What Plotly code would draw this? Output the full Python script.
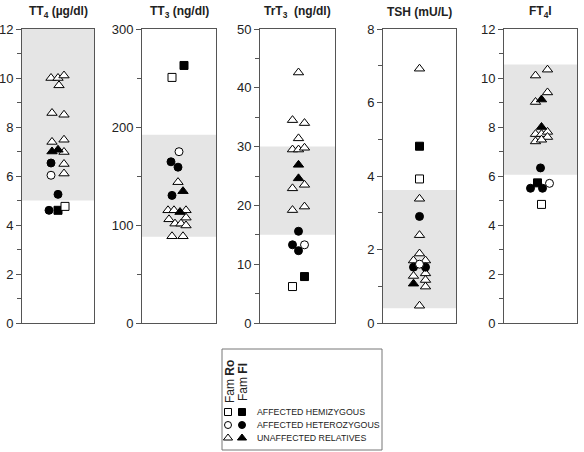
import plotly.graph_objects as go

W, H = 584, 452

# ---------------- data ----------------
panel_titles = ["TT<sub>4</sub> (µg/dl)", "TT<sub>3</sub> (ng/dl)", "TrT<sub>3</sub>&nbsp; (ng/dl)",
                "TSH (mU/L)", "FT<sub>4</sub>I"]
y_ranges = [[0, 12], [0, 300], [0, 50], [0, 8], [0, 12]]
y_dticks = [2, 100, 10, 2, 2]
y_minor = [1, 50, 5, 1, 1]
normal_low = [5.0, 88, 15, 0.4, 6.05]
normal_high = [12.0, 192, 30, 3.62, 10.55]

# values per group, per panel; *_x = horizontal jitter column (px offset from panel centre)
tt4_unaff_ro = [10.0, 10.0, 10.1, 9.7, 8.57, 8.5, 7.39, 7.48, 6.98, 6.49, 6.1]
tt4_unaff_ro_x = [-7, 0, 6, 1, -6, 6, -6, 6, 6, 6, 6]
tt4_unaff_fl = [7.0, 7.07]
tt4_unaff_fl_x = [-6, 0]
tt4_het_fl = [6.53, 5.25, 4.6]
tt4_het_fl_x = [-7, 0, -9]
tt4_het_ro = [6.03]
tt4_het_ro_x = [-7]
tt4_hemi_fl = [4.6]
tt4_hemi_fl_x = [0]
tt4_hemi_ro = [4.76]
tt4_hemi_ro_x = [7]

tt3_unaff_ro = [143.7, 115, 115, 115, 105.8, 107.5, 101.4, 101.4, 99.5, 88.5, 88.5]
tt3_unaff_ro_x = [-1, -11, -5, 7, -10, 7, -4, 2, 7, -7, 4]
tt3_unaff_fl = [134.5, 113.2]
tt3_unaff_fl_x = [4, 1]
tt3_het_fl = [164.5, 159, 130.2]
tt3_het_fl_x = [-8, -1, -7]
tt3_het_ro = [174.8]
tt3_het_ro_x = [0]
tt3_hemi_fl = [262.8]
tt3_hemi_fl_x = [5]
tt3_hemi_ro = [250.6]
tt3_hemi_ro_x = [-7]

trt3_unaff_ro = [42.6, 34.5, 34.0, 31.4, 29.5, 29.5, 29.8, 23.5, 22.9, 19.2, 19.8]
trt3_unaff_ro_x = [1, -5, 7, 1, -5, 1, 7, 7, -5, -5, 7]
trt3_unaff_fl = [26.9, 24.6]
trt3_unaff_fl_x = [1, 1]
trt3_het_fl = [15.6, 13.3, 12.3]
trt3_het_fl_x = [1, -5, 1]
trt3_het_ro = [13.3]
trt3_het_ro_x = [7]
trt3_hemi_fl = [7.9]
trt3_hemi_fl_x = [7]
trt3_hemi_ro = [6.2]
trt3_hemi_ro_x = [-5]

tsh_unaff_ro = [6.92, 3.38, 2.39, 1.89, 1.70, 1.70, 1.35, 1.28, 1.17, 0.99, 0.47]
tsh_unaff_ro_x = [0, 0, 0, 0, -6, 6, 6, -6, 6, 6, 0]
tsh_unaff_fl = [1.07]
tsh_unaff_fl_x = [-6]
tsh_het_fl = [2.9, 1.52, 1.52]
tsh_het_fl_x = [0, -6, 6]
tsh_het_ro = [1.60]
tsh_het_ro_x = [0]
tsh_hemi_fl = [4.81]
tsh_hemi_fl_x = [0]
tsh_hemi_ro = [3.92]
tsh_hemi_ro_x = [0]

ft4i_unaff_ro = [10.1, 10.34, 9.41, 9.02, 7.71, 7.71, 7.8, 7.59, 7.41, 7.48]
ft4i_unaff_ro_x = [-5, 7, 7, -5, -5, 1, 7, 7, -5, 1]
ft4i_unaff_fl = [9.12, 8.0]
ft4i_unaff_fl_x = [1, 1]
ft4i_het_fl = [6.33, 5.5, 5.5]
ft4i_het_fl_x = [0, -10, 2]
ft4i_het_ro = [5.70]
ft4i_het_ro_x = [9]
ft4i_hemi_fl = [5.72]
ft4i_hemi_fl_x = [-3]
ft4i_hemi_ro = [4.84]
ft4i_hemi_ro_x = [1]

panels = [
    dict(unaff_ro=(tt4_unaff_ro_x, tt4_unaff_ro), unaff_fl=(tt4_unaff_fl_x, tt4_unaff_fl),
         het_fl=(tt4_het_fl_x, tt4_het_fl), het_ro=(tt4_het_ro_x, tt4_het_ro),
         hemi_fl=(tt4_hemi_fl_x, tt4_hemi_fl), hemi_ro=(tt4_hemi_ro_x, tt4_hemi_ro)),
    dict(unaff_ro=(tt3_unaff_ro_x, tt3_unaff_ro), unaff_fl=(tt3_unaff_fl_x, tt3_unaff_fl),
         het_fl=(tt3_het_fl_x, tt3_het_fl), het_ro=(tt3_het_ro_x, tt3_het_ro),
         hemi_fl=(tt3_hemi_fl_x, tt3_hemi_fl), hemi_ro=(tt3_hemi_ro_x, tt3_hemi_ro)),
    dict(unaff_ro=(trt3_unaff_ro_x, trt3_unaff_ro), unaff_fl=(trt3_unaff_fl_x, trt3_unaff_fl),
         het_fl=(trt3_het_fl_x, trt3_het_fl), het_ro=(trt3_het_ro_x, trt3_het_ro),
         hemi_fl=(trt3_hemi_fl_x, trt3_hemi_fl), hemi_ro=(trt3_hemi_ro_x, trt3_hemi_ro)),
    dict(unaff_ro=(tsh_unaff_ro_x, tsh_unaff_ro), unaff_fl=(tsh_unaff_fl_x, tsh_unaff_fl),
         het_fl=(tsh_het_fl_x, tsh_het_fl), het_ro=(tsh_het_ro_x, tsh_het_ro),
         hemi_fl=(tsh_hemi_fl_x, tsh_hemi_fl), hemi_ro=(tsh_hemi_ro_x, tsh_hemi_ro)),
    dict(unaff_ro=(ft4i_unaff_ro_x, ft4i_unaff_ro), unaff_fl=(ft4i_unaff_fl_x, ft4i_unaff_fl),
         het_fl=(ft4i_het_fl_x, ft4i_het_fl), het_ro=(ft4i_het_ro_x, ft4i_het_ro),
         hemi_fl=(ft4i_hemi_fl_x, ft4i_hemi_fl), hemi_ro=(ft4i_hemi_ro_x, ft4i_hemi_ro)),
]

legend_labels = ["AFFECTED HEMIZYGOUS", "AFFECTED HETEROZYGOUS", "UNAFFECTED RELATIVES"]
legend_families = ["Ro", "Fl"]

# ---------------- styles ----------------
styles = {
    "unaff_ro": dict(symbol="triangle-up", size=9, color="white"),
    "unaff_fl": dict(symbol="triangle-up", size=9, color="black"),
    "het_fl": dict(symbol="circle", size=8, color="black"),
    "het_ro": dict(symbol="circle", size=8, color="white"),
    "hemi_fl": dict(symbol="square", size=8, color="black"),
    "hemi_ro": dict(symbol="square", size=8, color="white"),
}
order = ["unaff_ro", "unaff_fl", "het_fl", "het_ro", "hemi_fl", "hemi_ro"]

px_x = [(22, 94), (142, 216), (260, 335), (383, 456), (504, 577)]
plot_top, plot_bot = 29, 323
font = "Liberation Sans, Arial, sans-serif"

fig = go.Figure()
layout = dict(template="none", width=W, height=H, margin=dict(l=0, r=0, t=0, b=0, pad=0),
              paper_bgcolor="white", plot_bgcolor="rgba(0,0,0,0)",
              showlegend=False, font=dict(family=font, color="#222"))
shapes, annotations = [], []

for i, p in enumerate(panels):
    n = i + 1
    xa = "x" if n == 1 else f"x{n}"
    ya = "y" if n == 1 else f"y{n}"
    x0, x1 = px_x[i]
    half = (x1 - x0) / 2
    for g in order:
        xs, ys = p[g]
        st = styles[g]
        fig.add_trace(go.Scatter(
            x=xs, y=ys, mode="markers", xaxis=xa, yaxis=ya, cliponaxis=False,
            marker=dict(symbol=st["symbol"], size=st["size"], color=st["color"],
                        line=dict(color="black", width=1)),
            hoverinfo="skip"))
    layout["xaxis" if n == 1 else f"xaxis{n}"] = dict(
        domain=[x0 / W, x1 / W], range=[-half, half], anchor=ya, automargin=False,
        showline=True, mirror=True, linecolor="#555", linewidth=1,
        showgrid=False, zeroline=False, showticklabels=False, ticks="", fixedrange=True)
    layout["yaxis" if n == 1 else f"yaxis{n}"] = dict(
        domain=[1 - plot_bot / H, 1 - plot_top / H], range=y_ranges[i], anchor=xa,
        dtick=y_dticks[i], tick0=0, automargin=False,
        showline=True, mirror=True, linecolor="#555", linewidth=1,
        showgrid=False, zeroline=False,
        ticks="outside", ticklen=5, tickwidth=1, tickcolor="#555",
        minor=dict(ticks="outside", dtick=y_minor[i], tick0=0, ticklen=4, tickcolor="#555", showgrid=False),
        tickfont=dict(size=13, color="#222", family=font), fixedrange=True)
    shapes.append(dict(type="rect", xref=f"{xa} domain", yref=ya, x0=0, x1=1,
                       y0=normal_low[i], y1=normal_high[i], fillcolor="#e5e5e5",
                       line=dict(width=0), layer="below"))
    annotations.append(dict(text=f"<b>{panel_titles[i]}</b>", xref="paper", yref="paper",
                            x=(x0 + x1) / 2 / W, y=1 - 12 / H, xanchor="center", yanchor="middle",
                            showarrow=False, font=dict(size=12, color="#222", family=font)))

# ---------------- key box ----------------
kx0, kx1, ky0, ky1 = 222, 382, 349, 450
shapes.append(dict(type="rect", xref="paper", yref="paper", x0=kx0 / W, x1=kx1 / W,
                   y0=1 - ky1 / H, y1=1 - ky0 / H, line=dict(color="#777", width=1),
                   fillcolor="rgba(0,0,0,0)"))
for j, fam in enumerate(legend_families):
    annotations.append(dict(text=f"Fam <b>{fam}</b>", xref="paper", yref="paper",
                            x=(230 + 13 * j) / W, y=1 - 382 / H, xanchor="center", yanchor="middle",
                            textangle=-90, showarrow=False,
                            font=dict(size=12, color="#222", family=font)))
row_y = [412, 425, 438]
for j, lab in enumerate(legend_labels):
    annotations.append(dict(text=lab, xref="paper", yref="paper", x=255 / W, y=1 - row_y[j] / H,
                            xanchor="left", yanchor="middle", showarrow=False,
                            font=dict(size=8.8, color="#222", family=font)))
key_groups = [("hemi_ro", "hemi_fl"), ("het_ro", "het_fl"), ("unaff_ro", "unaff_fl")]
for j, (gro, gfl) in enumerate(key_groups):
    for k, g in enumerate((gro, gfl)):
        st = styles[g]
        fig.add_trace(go.Scatter(
            x=[legend_families[k]], y=[legend_labels[j]], mode="markers", xaxis="x6", yaxis="y6",
            cliponaxis=False,
            marker=dict(symbol=st["symbol"], size=st["size"] - 1, color=st["color"],
                        line=dict(color="black", width=1)), hoverinfo="skip"))
layout["xaxis6"] = dict(domain=[221 / W, 249 / W], range=[-0.5, 1.5], type="category",
                        categoryorder="array", categoryarray=legend_families, automargin=False,
                        visible=False, anchor="y6", fixedrange=True)
layout["yaxis6"] = dict(domain=[1 - 444.5 / H, 1 - 405.5 / H], range=[2.5, -0.5], type="category",
                        categoryorder="array", categoryarray=legend_labels, automargin=False,
                        visible=False, anchor="x6", fixedrange=True)

layout["shapes"] = shapes
layout["annotations"] = annotations
fig.update_layout(**layout)
fig.write_html("out.html", config={"displayModeBar": False, "staticPlot": True},
               post_script="document.body.style.margin='0';document.body.style.overflow='hidden';")
